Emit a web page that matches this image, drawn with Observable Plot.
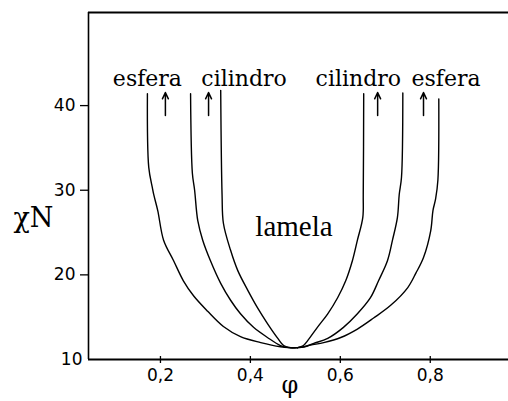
<!DOCTYPE html>
<html>
<head>
<meta charset="utf-8">
<script src="https://cdn.jsdelivr.net/npm/d3@7"></script>
<script src="https://cdn.jsdelivr.net/npm/@observablehq/plot@0.6"></script>
<style>
  html, body { margin: 0; padding: 0; background: #fff; }
</style>
</head>
<body>
<div id="chart"></div>
<script>
// Phase boundaries (phi, chiN)
const esferaIzqPhi = [0.171, 0.174, 0.182, 0.185, 0.194, 0.207, 0.229, 0.251, 0.274, 0.305, 0.340, 0.378, 0.423, 0.467, 0.485, 0.505];
const esferaIzqChi = [41.4, 32.7, 30.3, 29.5, 27.6, 24.1, 21.7, 19.3, 17.5, 15.7, 13.9, 12.7, 12.0, 11.5, 11.4, 11.4];

const cilindroIzqPhi = [0.267, 0.271, 0.276, 0.283, 0.294, 0.311, 0.334, 0.356, 0.378, 0.407, 0.438, 0.467, 0.485, 0.505];
const cilindroIzqChi = [41.4, 32.0, 30.0, 26.4, 24.1, 21.7, 19.0, 17.0, 15.4, 13.8, 12.6, 11.65, 11.4, 11.4];

const lamelaIzqPhi = [0.334, 0.337, 0.340, 0.356, 0.372, 0.394, 0.416, 0.438, 0.461, 0.474, 0.490, 0.505];
const lamelaIzqChi = [41.8, 29.5, 26.1, 22.9, 20.5, 18.2, 16.1, 14.25, 12.5, 11.65, 11.4, 11.4];

const lamelaDerPhi = [0.652, 0.651, 0.650, 0.638, 0.627, 0.612, 0.594, 0.572, 0.549, 0.527, 0.518, 0.505];
const lamelaDerChi = [41.4, 29.5, 26.8, 24.1, 21.7, 19.3, 17.3, 15.4, 13.8, 12.2, 11.65, 11.4];

const cilindroDerPhi = [0.739, 0.736, 0.731, 0.727, 0.716, 0.705, 0.685, 0.667, 0.638, 0.607, 0.572, 0.541, 0.520, 0.505];
const cilindroDerChi = [41.5, 31.5, 29.5, 26.8, 24.1, 21.7, 19.3, 17.3, 15.4, 13.8, 12.5, 11.9, 11.5, 11.4];

const esferaDerPhi = [0.819, 0.817, 0.812, 0.806, 0.801, 0.785, 0.768, 0.750, 0.712, 0.674, 0.638, 0.601, 0.563, 0.534, 0.520, 0.505];
const esferaDerChi = [40.8, 31.2, 29.0, 27.6, 25.2, 22.05, 20.2, 18.5, 16.4, 14.9, 13.6, 12.6, 12.0, 11.7, 11.5, 11.4];

// Region labels
const etiquetas = ["esfera", "cilindro", "cilindro", "esfera"];
const etiquetaPhi = [0.171, 0.386, 0.640, 0.835];
const etiquetaChi = 42.26;
const lamelaTexto = "lamela";
const lamelaPhi = 0.497;
const lamelaChi = 24.65;

// Arrows
const flechaPhi = [0.211, 0.307, 0.683, 0.785];
const flechaChiBase = 38.83;
const flechaChiPunta = 41.55;

// Axes
const xTicks = [0.2, 0.4, 0.6, 0.8];
const yTicks = [20, 30, 40];
const yTickBase = [10];
const xDomain = [0.04, 0.974];
const yDomain = [10, 51];
const xLabel = "φ";
const yLabel = "χN";

const curvas = [
  ["esferaIzq", esferaIzqPhi, esferaIzqChi],
  ["cilindroIzq", cilindroIzqPhi, cilindroIzqChi],
  ["lamelaIzq", lamelaIzqPhi, lamelaIzqChi],
  ["lamelaDer", lamelaDerPhi, lamelaDerChi],
  ["cilindroDer", cilindroDerPhi, cilindroDerChi],
  ["esferaDer", esferaDerPhi, esferaDerChi]
];
const rows = curvas.flatMap(([name, px, py]) => px.map((p, i) => ({curva: name, phi: p, chiN: py[i]})));
const labelRows = etiquetas.map((t, i) => ({t, phi: etiquetaPhi[i]}));
const fmt = d => d.toFixed(1).replace(".", ",");
const serif = "'Liberation Serif', 'DejaVu Serif', serif";

const chart = Plot.plot({
  width: 508,
  height: 401,
  marginLeft: 88,
  marginRight: 0,
  marginTop: 12,
  marginBottom: 42,
  style: {background: "#fff", color: "#000", fontFamily: "DejaVu Sans", fontSize: "17px"},
  x: {domain: xDomain},
  y: {domain: yDomain},
  marks: [
    Plot.axisY(yTicks, {tickSize: 8, tickPadding: 5, fontSize: 17, fontFamily: "DejaVu Sans", label: null, stroke: "#000", strokeWidth: 1.3}),
    Plot.axisY(yTickBase, {tickSize: 0, tickPadding: 6, fontSize: 17, fontFamily: "DejaVu Sans", label: null}),
    Plot.axisX(xTicks, {tickSize: 4, tickPadding: 5, tickFormat: fmt, fontSize: 17, fontFamily: "DejaVu Sans", label: null, strokeWidth: 1.3}),
    Plot.ruleX(xTicks, {x: d => d, y1: d => 10, y2: d => 10, insetBottom: 3, stroke: "#000", strokeWidth: 1.3}),
    Plot.ruleX([xDomain[0]], {stroke: "#000", strokeWidth: 1.6}),
    Plot.ruleY([yDomain[0]], {stroke: "#000", strokeWidth: 2}),
    Plot.ruleY([yDomain[1]], {stroke: "#000", strokeWidth: 2}),
    Plot.line(rows, {x: "phi", y: "chiN", z: "curva", curve: "catmull-rom", stroke: "#000", strokeWidth: 1.4}),
    Plot.arrow(flechaPhi, {x1: d => d, x2: d => d, y1: d => flechaChiBase, y2: d => flechaChiPunta, headLength: 7, headAngle: 50, stroke: "#000", strokeWidth: 1.5}),
    Plot.text(labelRows, {x: "phi", y: d => etiquetaChi, text: "t", lineAnchor: "bottom", fontFamily: "DejaVu Serif", fontSize: 22, fill: "#000"}),
    Plot.text([lamelaTexto], {x: d => lamelaPhi, y: d => lamelaChi, text: d => d, lineAnchor: "bottom", fontFamily: serif, fontSize: 29, fill: "#000"}),
    Plot.text([xLabel], {x: d => 0.488, y: d => 10, text: d => d, dy: 26, fontFamily: "DejaVu Serif", fontSize: 24, fill: "#000"}),
    Plot.text([yLabel], {x: d => xDomain[0], y: d => 26.66, text: d => d, dx: -55, fontFamily: "DejaVu Serif", fontSize: 27, fill: "#000"})
  ]
});
document.getElementById("chart").appendChild(chart);
</script>
</body>
</html>
